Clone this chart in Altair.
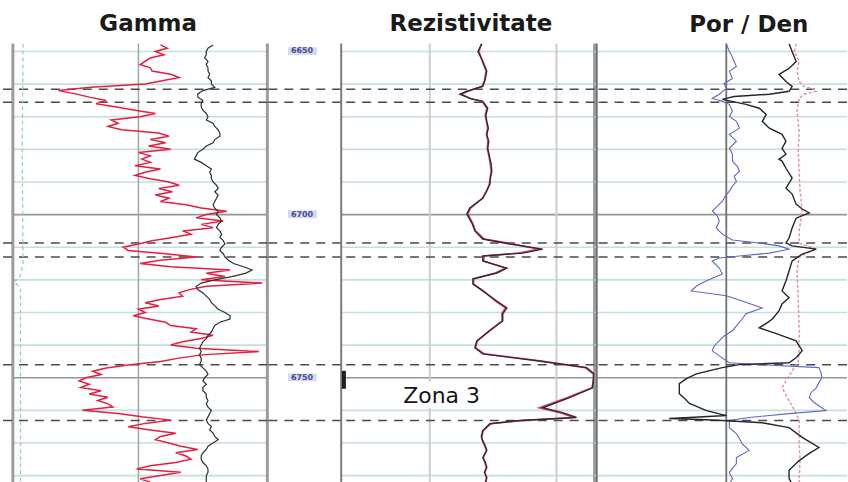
import altair as alt
import pandas as pd

# ---------------- depth frame (ft) ----------------
DEPTH_TOP = 6647.55
DEPTH_BASE = 6782.1
GRID_DEPTHS = [6650, 6660, 6670, 6680, 6690, 6700, 6710, 6720, 6730, 6740, 6750, 6760, 6770, 6780]
MAJOR_DEPTHS = [6700, 6750]
DEPTH_LABELS = ["6650", "6700", "6750"]
DEPTH_LABEL_AT = [6650, 6700, 6750]
ZONE_BOUNDARIES = [6661.6, 6665.6, 6708.7, 6713.0, 6746.0, 6763.1]

# ---------------- Gamma track (API), one sample per foot from 6648 ft ----------------
GR_START = 6648
GR_RED = [
    87, 91, 84, 89, 81, 78, 75, 81, 82, 93,
    98, 88, 78, 46, 27, 37, 45, 55, 49, 61,
    72, 84, 75, 58, 62, 56, 64, 86, 92, 81,
    90, 80, 93, 74, 81, 76, 81, 72, 87, 78,
    72, 81, 92, 98, 86, 94, 84, 92, 87, 102,
    111, 126, 114, 108, 124, 111, 118, 100, 105, 94,
    82, 74, 65, 68, 90, 108, 87, 75, 93, 128,
    114, 125, 111, 147, 114, 104, 98, 100, 87, 78,
    86, 74, 78, 71, 80, 90, 93, 108, 105, 118,
    111, 100, 93, 108, 145, 111, 98, 87, 69, 55,
    47, 52, 43, 39, 45, 40, 52, 45, 56, 50,
    56, 59, 41, 62, 76, 93, 78, 68, 81, 96,
    87, 84, 92, 99, 109, 96, 102, 105, 96, 81,
    73, 99, 87, 75, 81,
]
GR_BLACK = [
    118, 115, 114, 114, 113, 115, 114, 115, 115, 116,
    115, 117, 117, 119, 112, 109, 109, 112, 111, 111,
    112, 114, 115, 114, 118, 119, 121, 122, 122, 119,
    118, 114, 112, 109, 108, 107, 111, 114, 117, 116,
    117, 117, 118, 120, 121, 119, 121, 120, 119, 118,
    119, 121, 120, 122, 123, 121, 120, 122, 123, 122,
    124, 125, 123, 122, 124, 125, 127, 130, 136, 141,
    137, 129, 119, 111, 108, 109, 112, 114, 116, 117,
    119, 121, 125, 128, 128, 122, 119, 118, 117, 115,
    114, 112, 111, 110, 111, 110, 111, 111, 110, 112,
    114, 115, 113, 112, 114, 112, 112, 114, 114, 115,
    114, 115, 117, 116, 115, 114, 115, 117, 116, 118,
    119, 121, 118, 115, 114, 112, 111, 111, 112, 114,
    115, 115, 114, 114, 114,
]
SP_DEPTH = [6647.6, 6680.0, 6715.0, 6719.5, 6720.5, 6721.5, 6723.0, 6740.0, 6782.1]
SP_VALUE = [6.0, 5.5, 6.0, 4.0, 0.5, 2.5, 4.5, 4.5, 4.5]

# ---------------- Resistivity track (ohm.m, log 0.2 - 20) ----------------
RES_DEPTH = [
    6647.6, 6650.0, 6653.0, 6656.0, 6659.0, 6660.7, 6662.2, 6663.1, 6664.4, 6665.3,
    6667.4, 6669.5, 6671.4, 6673.5, 6675.4, 6677.5, 6679.7, 6682.7, 6684.5, 6686.7,
    6688.5, 6690.7, 6693.0, 6695.0, 6698.0, 6699.8, 6702.6, 6705.0, 6707.5, 6709.0,
    6710.6, 6711.8, 6712.7, 6714.2, 6716.4, 6717.9, 6719.7, 6721.3, 6723.4, 6726.5,
    6728.6, 6730.4, 6732.6, 6735.6, 6738.7, 6740.8, 6742.7, 6744.8, 6746.9, 6748.8,
    6751.0, 6753.1, 6756.1, 6759.2, 6760.7, 6762.2, 6763.1, 6764.1, 6766.2, 6768.0,
    6769.3, 6771.0, 6772.3, 6774.5, 6776.0, 6777.5, 6779.0, 6780.6, 6782.1,
]
RES_DEEP = [
    2.58, 2.40, 2.62, 2.82, 2.72, 2.62, 1.96, 1.73, 2.07, 2.62,
    2.87, 2.77, 2.82, 2.90, 2.82, 2.92, 2.87, 2.98, 3.05, 3.09,
    3.02, 2.98, 2.80, 2.62, 2.07, 1.96, 2.15, 2.27, 2.62, 4.28,
    7.79, 5.42, 2.62, 2.62, 4.06, 3.38, 2.19, 2.19, 2.62, 3.38,
    4.06, 3.77, 3.77, 2.98, 2.35, 2.27, 2.62, 6.99, 17.3, 19.8,
    19.5, 19.3, 12.7, 7.79, 11.2, 14.4, 5.13, 2.98, 2.62, 2.55,
    2.62, 2.75, 2.82, 2.62, 2.75, 2.82, 2.70, 2.82, 2.77,
]
RES_SHALLOW = [
    2.55, 2.45, 2.60, 2.78, 2.70, 2.58, 2.00, 1.78, 2.10, 2.58,
    2.82, 2.74, 2.80, 2.86, 2.80, 2.88, 2.84, 2.95, 3.00, 3.05,
    3.00, 2.95, 2.78, 2.60, 2.10, 2.00, 2.18, 2.30, 2.70, 4.60,
    7.20, 5.00, 2.70, 2.65, 3.95, 3.30, 2.22, 2.22, 2.65, 3.30,
    3.95, 3.70, 3.72, 2.95, 2.38, 2.30, 2.70, 7.40, 16.8, 19.5,
    19.6, 19.0, 12.2, 7.30, 10.6, 13.6, 5.50, 3.05, 2.65, 2.58,
    2.60, 2.72, 2.80, 2.64, 2.72, 2.80, 2.72, 2.80, 2.75,
]

# ---------------- Porosity / density track (porosity units, 45 -> -12.5) ----------------
POR_BLUE_DEPTH = [
    6647.6, 6650.0, 6650.9, 6653.1, 6654.6, 6656.1, 6658.3, 6659.8, 6661.3, 6663.1,
    6664.4, 6665.3, 6666.2, 6668.3, 6669.9, 6671.4, 6673.5, 6675.4, 6677.5, 6679.7,
    6681.5, 6683.6, 6685.2, 6686.7, 6688.2, 6689.8, 6691.3, 6692.8, 6694.3, 6695.9,
    6697.4, 6698.9, 6700.5, 6702.0, 6704.1, 6706.0, 6707.8, 6708.7, 6709.6, 6710.6,
    6711.8, 6712.7, 6713.3, 6714.2, 6716.4, 6718.2, 6720.3, 6721.9, 6723.4, 6724.9,
    6726.5, 6728.6, 6730.4, 6732.0, 6734.1, 6735.6, 6737.2, 6738.7, 6740.2, 6741.7,
    6743.3, 6744.8, 6745.4, 6746.0, 6746.9, 6748.5, 6750.0, 6751.5, 6753.1, 6754.6,
    6756.1, 6757.6, 6758.6, 6760.1, 6761.0, 6762.2, 6763.1, 6765.3, 6767.1, 6768.7,
    6770.2, 6772.3, 6774.5, 6776.3, 6777.8, 6779.1, 6780.9, 6782.1,
]
POR_BLUE = [
    15.0, 14.3, 13.9, 13.2, 12.7, 14.3, 13.6, 15.5, 15.0, 16.6,
    18.2, 15.9, 14.3, 13.6, 14.3, 12.7, 12.0, 14.3, 12.7, 14.3,
    13.6, 13.6, 12.5, 12.0, 13.2, 12.7, 13.6, 14.3, 15.2, 15.9,
    17.0, 18.2, 17.0, 16.6, 17.3, 15.9, 13.6, 7.5, 3.0, 0.7,
    5.2, 12.0, 16.6, 18.2, 16.6, 15.9, 19.5, 21.8, 23.0, 15.0,
    11.4, 6.8, 10.5, 11.4, 12.7, 13.6, 15.5, 16.6, 17.7, 18.2,
    16.6, 15.0, 14.3, 7.5, -6.1, -6.6, -6.8, -6.1, -5.5, -4.3,
    -3.9, -5.0, -6.1, -7.7, 0.7, 9.8, 14.3, 14.3, 12.7, 12.0,
    11.4, 9.8, 12.7, 12.7, 13.6, 14.3, 13.6, 14.1,
]
POR_BLACK_DEPTH = [
    6647.6, 6650.0, 6653.1, 6655.2, 6657.0, 6659.2, 6660.7, 6662.2, 6663.1, 6663.8,
    6664.4, 6664.7, 6666.2, 6667.4, 6669.3, 6671.4, 6673.5, 6675.4, 6677.5, 6679.7,
    6681.5, 6683.0, 6683.6, 6685.8, 6688.8, 6691.9, 6693.7, 6696.8, 6698.3, 6699.5,
    6701.1, 6704.1, 6707.2, 6708.7, 6709.6, 6710.6, 6712.1, 6714.2, 6717.3, 6720.3,
    6723.4, 6725.5, 6727.4, 6729.5, 6732.0, 6733.2, 6734.7, 6736.5, 6738.7, 6741.7,
    6743.9, 6745.4, 6746.0, 6746.9, 6748.8, 6750.3, 6751.8, 6754.9, 6756.4, 6757.9,
    6760.1, 6761.6, 6762.2, 6762.5, 6762.8, 6763.1, 6763.8, 6765.3, 6768.3, 6771.4,
    6773.2, 6775.4, 6778.4, 6780.9, 6782.1,
]
POR_BLACK = [
    0.7, 0.0, -0.9, 0.7, 3.0, 1.4, 0.0, 0.7, 5.2, 13.2,
    15.0, 15.9, 10.5, 7.5, 5.9, 6.8, 5.2, 2.3, 1.4, 2.3,
    1.4, 3.0, 2.3, 1.4, 0.0, 1.4, 0.0, -0.9, -2.3, -3.9,
    -0.9, 0.0, 0.7, 1.4, 0.0, -5.5, -2.3, 0.0, 0.7, 1.4,
    2.3, 0.7, 2.3, 3.0, 4.5, 5.7, 7.5, 3.6, -0.9, -2.3,
    -0.9, 0.7, 12.0, 15.9, 21.8, 24.1, 25.7, 25.7, 24.5, 23.4,
    19.5, 15.0, 23.4, 28.0, 21.1, 15.9, 6.8, 0.7, -2.3, -6.1,
    -3.9, -1.6, 0.7, 0.7, 0.2,
]
POR_PINK_DEPTH = [
    6647.6, 6650.0, 6653.1, 6656.1, 6659.2, 6660.7, 6661.6, 6662.2, 6663.1, 6664.4,
    6668.3, 6674.5, 6680.6, 6686.7, 6692.8, 6698.9, 6705.0, 6708.7, 6709.6, 6710.6,
    6711.8, 6713.0, 6717.3, 6726.5, 6735.6, 6741.7, 6745.4, 6746.0, 6749.4, 6753.1,
    6757.0, 6761.0, 6763.1, 6769.3, 6775.4, 6782.1,
]
POR_PINK = [
    -0.9, -0.5, -1.6, -1.1, -1.6, -2.7, -5.0, -5.5, -2.7, -1.6,
    -1.1, -1.6, -1.4, -1.6, -1.8, -2.3, -1.6, -1.6, -3.4, -5.5,
    -3.4, -1.6, -1.1, -1.4, -1.6, -1.6, -1.4, -0.9, 0.7, 2.3,
    0.7, -0.9, -1.6, -1.6, -1.8, -1.6,
]

# ---------------- annotation ----------------
ZONE_NAME = "Zona 3"
ZONE_LABEL_DEPTH = 6755.5
ZONE_LABEL_RES = 1.24
ZONE_BOX = {"r0": 0.43, "r1": 3.6, "d0": 6751.2, "d1": 6759.3}
CORE_MARK = {"r": 0.21, "d0": 6747.9, "d1": 6753.4}

# ---------------- layout / style ----------------
H = 440
GAMMA_W, DEPTH_W, RES_W, POR_W = 267, 74, 254, 253
GAMMA_DOMAIN = [-7.0, 150.0]
RES_DOMAIN = [0.2, 20.0]
POR_DOMAIN = [45.0, -12.5]
FONT = "DejaVu Sans"

Y_SCALE = alt.Scale(domain=[DEPTH_TOP, DEPTH_BASE], reverse=True, nice=False, zero=False)


def yq(field="depth"):
    return alt.Y(f"{field}:Q", scale=Y_SCALE, axis=None)


def xq(field, scale):
    return alt.X(f"{field}:Q", scale=scale, axis=None)


def hgrid(scale, x0, x1):
    df = pd.DataFrame({"depth": GRID_DEPTHS, "x0": x0, "x1": x1})
    df["major"] = df["depth"].isin(MAJOR_DEPTHS)
    minor = alt.Chart(df).transform_filter("!datum.major").mark_rule(
        color="#c6dedc", strokeWidth=1.6
    ).encode(y=yq(), x=xq("x0", scale), x2="x1:Q")
    major = alt.Chart(df).transform_filter("datum.major").mark_rule(
        color="#8f979b", strokeWidth=1.6
    ).encode(y=yq(), x=xq("x0", scale), x2="x1:Q")
    return [minor, major]


def vlines(scale, values, color, width):
    df = pd.DataFrame({"x": values})
    return alt.Chart(df).mark_rule(color=color, strokeWidth=width).encode(x=xq("x", scale))


def zone_lines():
    df = pd.DataFrame({"depth": ZONE_BOUNDARIES})
    return alt.Chart(df).mark_rule(
        color="#4a4a4a", strokeWidth=1.5, strokeDash=[9, 7]
    ).encode(y=yq())


def curve(depths, values, scale, color, width, dash=None):
    df = pd.DataFrame({"depth": depths, "v": values})
    kw = dict(color=color, strokeWidth=width, clip=True, interpolate="linear")
    if dash:
        kw["strokeDash"] = dash
    return alt.Chart(df).mark_line(**kw).encode(
        x=xq("v", scale), y=yq(), order="depth:Q"
    )


def title(text, dx):
    return alt.TitleParams(
        text, font=FONT, fontSize=23, fontWeight="bold", color="#1a1a1a",
        anchor="middle", dx=dx, offset=6,
    )


# ---- Gamma ----
gs = alt.Scale(domain=GAMMA_DOMAIN, nice=False, zero=False)
gr_depth = [GR_START + i for i in range(len(GR_RED))]
gamma = alt.layer(
    *hgrid(gs, 0, 150),
    vlines(gs, [0, 150], "#9c9c9c", 3),
    vlines(gs, [74], "#9fa5a8", 1.5),
    zone_lines(),
    curve(SP_DEPTH, SP_VALUE, gs, "#8fd3c6", 1.3, dash=[4, 3]),
    curve(gr_depth, GR_RED, gs, "#e3203f", 1.5),
    curve(gr_depth, GR_BLACK, gs, "#2f2f2f", 1.2),
).properties(width=GAMMA_W, height=H, title=title("Gamma", 14))

# ---- depth column ----
ds = alt.Scale(domain=[0, 1], nice=False, zero=False)
depth_df = pd.DataFrame({"depth": DEPTH_LABEL_AT, "label": DEPTH_LABELS, "x": 0.47})
depth_df["d0"] = depth_df["depth"] - 1.3
depth_df["d1"] = depth_df["depth"] + 1.1
depth_df["x0"] = 0.28
depth_df["x1"] = 0.67
depth_col = alt.layer(
    zone_lines(),
    alt.Chart(depth_df).mark_rect(color="#d5d9ee").encode(
        x=xq("x0", ds), x2="x1:Q", y=yq("d0"), y2="d1:Q"
    ),
    alt.Chart(depth_df).mark_text(
        font=FONT, fontSize=8, fontWeight="bold", color="#3f4a8c", baseline="middle"
    ).encode(x=xq("x", ds), y=yq(), text="label:N"),
).properties(width=DEPTH_W, height=H, title=title(" ", 0))

# ---- Resistivity ----
rs = alt.Scale(type="log", domain=RES_DOMAIN, nice=False)
box_df = pd.DataFrame([ZONE_BOX])
mark_df = pd.DataFrame([CORE_MARK])
label_df = pd.DataFrame({"depth": [ZONE_LABEL_DEPTH], "r": [ZONE_LABEL_RES], "label": [ZONE_NAME]})
res = alt.layer(
    *hgrid(rs, 0.2, 20),
    vlines(rs, [1, 10], "#cdcdcd", 2),
    vlines(rs, [0.2], "#7b7b7b", 2),
    vlines(rs, [20], "#9c9c9c", 3),
    zone_lines(),
    curve(RES_DEPTH, RES_SHALLOW, rs, "#d04a62", 1.6),
    curve(RES_DEPTH, RES_DEEP, rs, "#3a2430", 1.4),
    alt.Chart(box_df).mark_rect(color="white").encode(
        x=xq("r0", rs), x2="r1:Q", y=yq("d0"), y2="d1:Q"
    ),
    alt.Chart(label_df).mark_text(
        font=FONT, fontSize=22, color="#151515", baseline="middle"
    ).encode(x=xq("r", rs), y=yq(), text="label:N"),
    alt.Chart(mark_df).mark_rule(color="#1e1e1e", strokeWidth=4).encode(
        x=xq("r", rs), y=yq("d0"), y2="d1:Q"
    ),
).properties(width=RES_W, height=H, title=title("Rezistivitate", 3))

# ---- Porosity / density ----
ps = alt.Scale(domain=POR_DOMAIN, nice=False, zero=False)
por = alt.layer(
    *hgrid(ps, 45, -12.5),
    vlines(ps, [44.5, 15], "#6d6f74", 1.8),
    zone_lines(),
    curve(POR_PINK_DEPTH, POR_PINK, ps, "#e58ba0", 1.4, dash=[3, 2]),
    curve(POR_BLUE_DEPTH, POR_BLUE, ps, "#5b67c9", 1.1),
    curve(POR_BLACK_DEPTH, POR_BLACK, ps, "#262626", 1.4),
).properties(width=POR_W, height=H, title=title("Por / Den", 28))

chart = alt.hconcat(gamma, depth_col, res, por, spacing=0, bounds="flush").properties(
    padding={"left": 0, "top": 12, "right": 0, "bottom": 0},
    background="white",
).configure_view(strokeWidth=0)

chart.save("out.html", embed_options={"renderer": "svg", "actions": False})
